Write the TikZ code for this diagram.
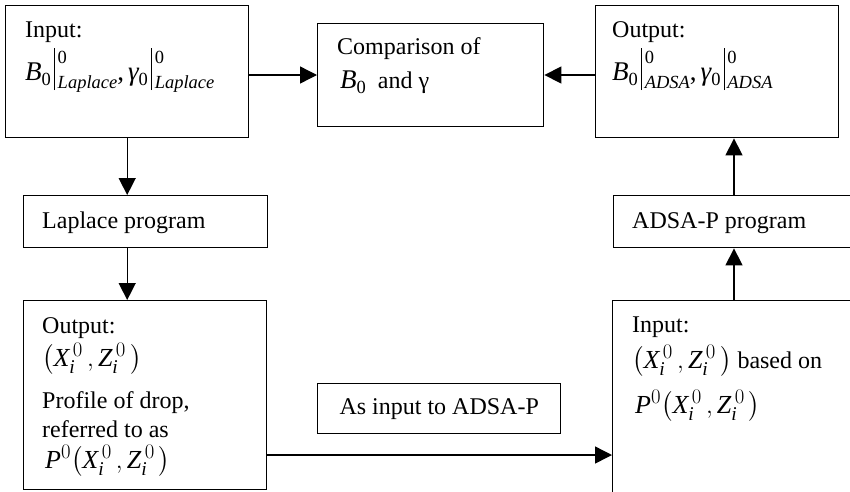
\documentclass[tikz,border=0pt]{standalone}
\usepackage{amsmath}
\usepackage{fontspec}
\setmainfont{Liberation Serif}
\usetikzlibrary{arrows.meta}
\DeclareMathSizes{26}{26}{19.5}{14}
\tikzset{
  box/.style={draw, line width=1.4pt, rectangle, inner sep=0pt, anchor=north west},
  txt/.style={inner sep=0pt, anchor=base west, font=\fontsize{24}{28}\selectfont},
  arr/.style={line width=1.4pt, -{Triangle[length=17pt,width=17pt]}},
  ln/.style={line width=1.4pt}
}
\newcommand{\mi}[1]{\mathit{#1}}
\newcommand{\mth}{\fontsize{26}{30}\selectfont}
\newcommand{\bigtx}{\fontsize{27}{30}\selectfont}
\newcommand{\scr}{\fontsize{18.5}{20}\selectfont}
\newcommand{\symsub}[1]{{\bigtx\itshape #1}\raisebox{-5pt}{\scr 0}}
\newcommand{\evat}[1]{\hspace{3pt}\raisebox{-10pt}{\rule{0.8pt}{42pt}}\hspace{3pt}\rlap{\raisebox{17pt}{\scr 0}}\raisebox{-8pt}{\scr\itshape #1}}
\newcommand{\pxz}{{\mth$\bigl(\mi{X}_{\mi{i}}^{\,0}\,,\mi{Z}_{\mi{i}}^{\,0}\,\bigr)$}}
\newcommand{\ppxz}{{\mth$\mi{P}^{0}\bigl(\mi{X}_{\mi{i}}^{\,0}\,,\mi{Z}_{\mi{i}}^{\,0}\,\bigr)$}}
\begin{document}
\begin{tikzpicture}[x=1pt,y=-1pt]
\useasboundingbox (0,0) rectangle (850,491);
\clip (0,0) rectangle (850,491);
% boxes
\node[box, minimum width=243pt, minimum height=132pt] (in1) at (5,5) {};
\node[box, minimum width=226pt, minimum height=103pt] (cmp) at (317,23) {};
\node[box, minimum width=243pt, minimum height=132pt] (out1) at (595,5) {};
\node[box, minimum width=244pt, minimum height=52pt] (lap) at (23,195) {};
\node[box, minimum width=240pt, minimum height=52pt] (adsa) at (613,195) {};
\node[box, minimum width=243pt, minimum height=189pt] (outL) at (23,300) {};
\node[box, minimum width=300pt, minimum height=250pt] (inR) at (612,300) {};
\node[box, minimum width=243pt, minimum height=50pt] (mid) at (317,383) {};
% texts
\node[txt] (t1a) at (25,37) {Input:};
\node[txt] (t1b) at (25,80) {\symsub{B}\evat{Laplace}{\bigtx,}\,\symsub{γ}\evat{Laplace}};
\node[txt] (t2a) at (337,54) {Comparison of};
\node[txt] (t2b) at (340,88) {\symsub{B}\hspace{12pt}and γ};
\node[txt] (t3a) at (612,37) {Output:};
\node[txt] (t3b) at (612,80) {\symsub{B}\evat{ADSA}{\bigtx,}\,\symsub{γ}\evat{ADSA}};
\node[txt] (t4) at (42,228) {Laplace program};
\node[txt] (t5) at (632,228) {ADSA-P program};
\node[txt] (t6a) at (42,333) {Output:};
\node[txt] (t6b) at (42,366) {\pxz};
\node[txt] (t6c) at (42,408) {Profile of drop,};
\node[txt] (t6d) at (42,437) {referred to as};
\node[txt] (t6e) at (45,468) {\ppxz};
\node[txt] (t7a) at (632,332) {Input:};
\node[txt] (t7b) at (632,368) {\pxz\ based on};
\node[txt] (t7c) at (635,413) {\ppxz};
\node[txt, anchor=center] (t8) at (mid.center) {As input to ADSA-P};
% connectors
\coordinate (rx) at (734,0);
\coordinate (ly) at (0,75);
\coordinate (hy) at (0,455);
\draw[arr] (in1.east |- ly) -- (cmp.west |- ly);
\draw[arr] (out1.west |- ly) -- (cmp.east |- ly);
\draw[arr] (in1.south) -- (lap.north -| in1.south);
\draw[arr] (lap.south -| in1.south) -- (outL.north -| in1.south);
\draw[arr] (inR.north -| rx) -- (adsa.south -| rx);
\draw[arr] (adsa.north -| rx) -- (out1.south -| rx);
\draw[arr] (outL.east |- hy) -- (inR.west |- hy);
\end{tikzpicture}
\end{document}
